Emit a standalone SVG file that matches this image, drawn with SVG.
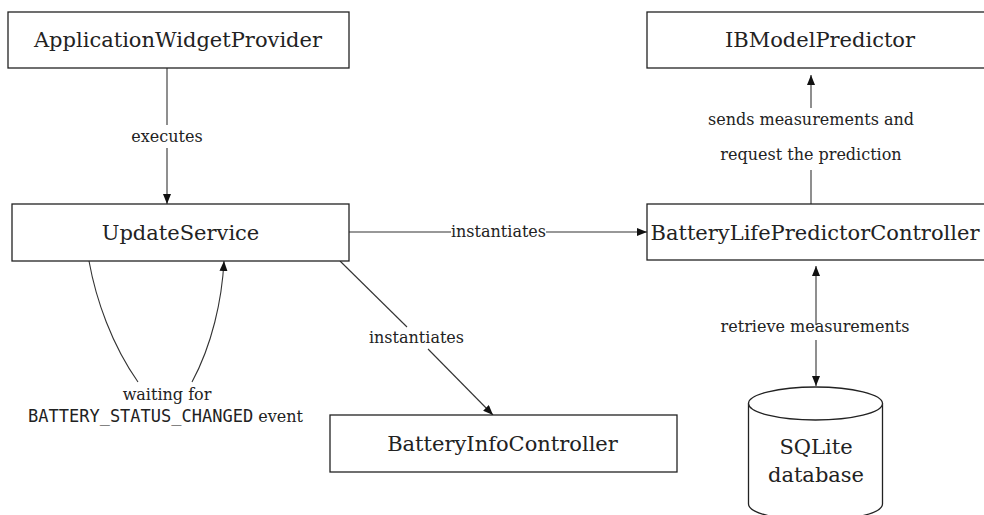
<svg xmlns="http://www.w3.org/2000/svg" width="984" height="515" viewBox="0 0 984 515">
  <style>
    .box { fill: #fff; stroke: #222; stroke-width: 1.3; }
    .node { font-family: "DejaVu Serif", "Liberation Serif", serif; font-size: 21px; fill: #222; text-anchor: middle; }
    .lbl { font-family: "DejaVu Serif", "Liberation Serif", serif; font-size: 16px; fill: #222; text-anchor: middle; }
    .mono { font-family: "DejaVu Sans Mono", "Liberation Mono", monospace; font-size: 17px; fill: #222; }
    .edge { fill: none; stroke: #333; stroke-width: 1.1; }
  </style>
  <defs>
    <marker id="ah" viewBox="0 0 10 8" refX="10" refY="4" markerWidth="10" markerHeight="8" markerUnits="userSpaceOnUse" orient="auto-start-reverse">
      <path d="M0,0 L10,4 L0,8 z" fill="#111"/>
    </marker>
  </defs>
  <rect width="984" height="515" fill="#fff"/>

  <g id="connectors">
    <!-- executes -->
    <line class="edge" x1="167" y1="68" x2="167" y2="125"/>
    <line class="edge" x1="167" y1="148" x2="167" y2="204" marker-end="url(#ah)"/>
    <text class="lbl" x="167" y="142">executes</text>
    <!-- instantiates horizontal -->
    <line class="edge" x1="349" y1="232" x2="451" y2="232"/>
    <line class="edge" x1="546" y1="232" x2="647" y2="232" marker-end="url(#ah)"/>
    <text class="lbl" x="498.5" y="237">instantiates</text>
    <!-- instantiates diagonal -->
    <line class="edge" x1="340" y1="261" x2="407" y2="327"/>
    <line class="edge" x1="428" y1="349" x2="493" y2="415" marker-end="url(#ah)"/>
    <text class="lbl" x="416.5" y="343">instantiates</text>
    <!-- waiting loop -->
    <path class="edge" d="M89,261 C96,300 112,345 138,382"/>
    <path class="edge" d="M192,382 C212,345 222,300 224,261" marker-end="url(#ah)"/>
    <text class="lbl" x="167" y="400">waiting for</text>
    <text x="28" y="422"><tspan class="mono">BATTERY_STATUS_CHANGED</tspan><tspan font-family="DejaVu Serif, Liberation Serif, serif" font-size="16" fill="#222"> event</tspan></text>
    <!-- sends measurements -->
    <line class="edge" x1="811" y1="204" x2="811" y2="170"/>
    <line class="edge" x1="811" y1="108" x2="811" y2="75" marker-end="url(#ah)"/>
    <text class="lbl" x="811" y="125">sends measurements and</text>
    <text class="lbl" x="811" y="160">request the prediction</text>
    <!-- retrieve measurements -->
    <line class="edge" x1="816" y1="266" x2="816" y2="325" marker-start="url(#ah)"/>
    <line class="edge" x1="816" y1="340" x2="816" y2="386" marker-end="url(#ah)"/>
    <text class="lbl" x="815" y="332">retrieve measurements</text>
  </g>

  <g id="ApplicationWidgetProvider">
    <rect class="box" x="8" y="12" width="341" height="56"/>
    <text class="node" x="178" y="47">ApplicationWidgetProvider</text>
  </g>
  <g id="UpdateService">
    <rect class="box" x="12" y="204" width="337" height="57"/>
    <text class="node" x="180.5" y="240">UpdateService</text>
  </g>
  <g id="IBModelPredictor">
    <rect class="box" x="647" y="12" width="345" height="56"/>
    <text class="node" x="820" y="47">IBModelPredictor</text>
  </g>
  <g id="BatteryLifePredictorController">
    <rect class="box" x="647" y="204" width="345" height="56"/>
    <text class="node" x="815" y="240">BatteryLifePredictorController</text>
  </g>
  <g id="BatteryInfoController">
    <rect class="box" x="330" y="415" width="347" height="57"/>
    <text class="node" x="502.5" y="451">BatteryInfoController</text>
  </g>
  <g id="SQLiteDatabase">
    <path class="box" d="M748.5,403.5 L748.5,504 A67,16.5 0 0 0 882.5,504 L882.5,403.5"/>
    <ellipse class="box" cx="815.5" cy="403.5" rx="67" ry="16.5"/>
    <text class="node" x="816" y="454" font-size="20">SQLite</text>
    <text class="node" x="816" y="482" font-size="20">database</text>
  </g>
</svg>
